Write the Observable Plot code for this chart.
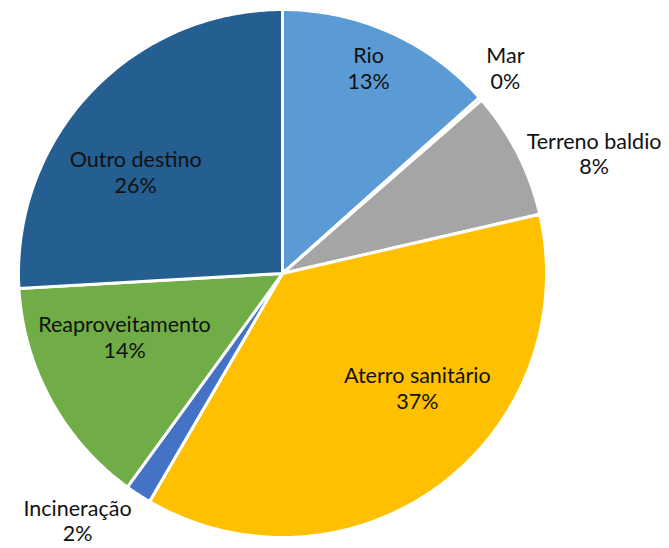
<!DOCTYPE html>
<html>
<head>
<meta charset="utf-8">
<script src="https://cdn.jsdelivr.net/npm/d3@7"></script>
<script src="https://cdn.jsdelivr.net/npm/@observablehq/plot@0.6"></script>
<style>
  html, body { margin: 0; padding: 0; background: #fff; }
  #chart svg { display: block; }
</style>
</head>
<body>
<div id="chart"></div>
<script>
// ---- data ----
const categories = ["Rio", "Mar", "Terreno baldio", "Aterro sanitário", "Incineração", "Reaproveitamento", "Outro destino"];
const shares = [13.4, 0.2, 7.8, 37.0, 1.6, 14.1, 25.9];
const colors = ["#5B9BD5", "#ED7D31", "#A5A5A5", "#FFC000", "#4472C4", "#70AD47", "#255E91"];
// label layout (relative to slice mid-angle, radius factor)
const labelAngleShift = [-1.4, -1.3, 5.9, -13.4, 6.6, 6.7, -8.6];
const labelRadius = [0.844, 1.149, 1.265, 0.669, 1.215, 0.645, 0.677];

// ---- geometry ----
const total = d3.sum(shares);
let cum = 0;
const slices = categories.map((c, i) => {
  const a0 = cum / total * 2 * Math.PI;
  cum += shares[i];
  const a1 = cum / total * 2 * Math.PI;
  return {cat: c, value: shares[i], a0, a1, i};
});
const poly = [];
for (const s of slices) {
  poly.push({cat: s.cat, x: 0, y: 0});
  const n = Math.max(2, Math.ceil((s.a1 - s.a0) / (Math.PI / 180)));
  for (let k = 0; k <= n; k++) {
    const a = s.a0 + (s.a1 - s.a0) * k / n;
    poly.push({cat: s.cat, x: Math.sin(a), y: Math.cos(a)});
  }
  poly.push({cat: s.cat, x: 0, y: 0});
}
const labels = slices.map(s => {
  const a = (s.a0 + s.a1) / 2 + labelAngleShift[s.i] * Math.PI / 180;
  const r = labelRadius[s.i];
  return {cat: s.cat, x: r * Math.sin(a), y: r * Math.cos(a),
          text: s.cat + "\n" + Math.round(s.value) + "%"};
});

const W = 669, H = 548, cx = 282, cy = 273, R = 264;
const chart = Plot.plot({
  width: W, height: H,
  margin: 0,
  x: {domain: [-cx / R, (W - cx) / R], axis: null},
  y: {domain: [-(H - cy) / R, cy / R], axis: null},
  color: {domain: categories, range: colors},
  style: {fontFamily: "Lato, sans-serif", background: "#fff"},
  marks: [
    Plot.line(poly, {x: "x", y: "y", z: "cat", fill: "cat", stroke: "#fff",
      strokeWidth: 3, strokeLinejoin: "round", curve: "linear"}),
    Plot.text(labels, {x: "x", y: "y", text: "text", fontSize: 21.5,
      lineHeight: 1.2, lineAnchor: "middle", textAnchor: "middle", fill: "#111"})
  ]
});
document.getElementById("chart").appendChild(chart);
</script>
</body>
</html>
